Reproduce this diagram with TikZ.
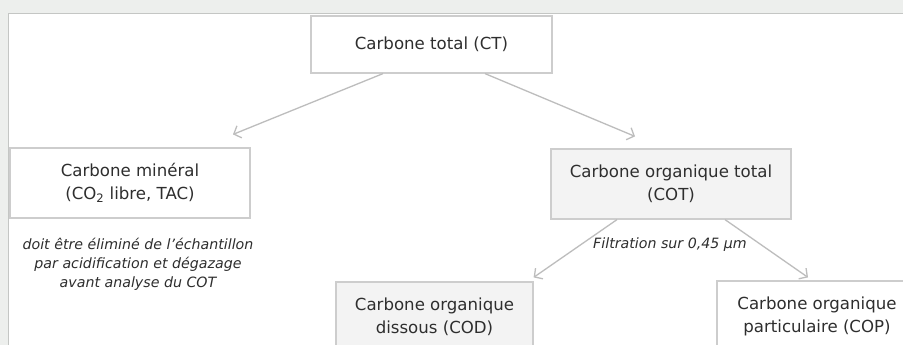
\documentclass[tikz,border=0pt]{standalone}
\usepackage{fontspec}
\setmainfont{DejaVu Sans}
\usetikzlibrary{arrows.meta,calc}
\definecolor{bgout}{HTML}{EDEFED}
\definecolor{panelline}{HTML}{C4C6C4}
\definecolor{boxline}{HTML}{CDCDCD}
\definecolor{boxfill}{HTML}{F3F3F3}
\definecolor{txt}{HTML}{2E2E2E}
\definecolor{arrcol}{HTML}{BDBDBD}
\tikzset{
  box/.style={draw=boxline, line width=1.2pt, fill=white, rectangle, align=center,
    inner sep=0pt, text=txt, font=\fontsize{16.6}{23}\selectfont},
  grey/.style={fill=boxfill},
  note/.style={align=center, text=txt, inner sep=0pt, font=\fontsize{14.2}{19}\selectfont\itshape},
  arr/.style={draw=arrcol, line width=1.3pt, -{Straight Barb[length=6pt,width=13pt,line width=1.3pt]}}
}
\begin{document}
\begin{tikzpicture}[x=1pt,y=-1pt]
\useasboundingbox (0,0) rectangle (903,345);
\clip (0,0) rectangle (903,345);
\fill[bgout] (0,0) rectangle (903,345);
\draw[panelline, line width=1.2pt, fill=white] (8.5,13.5) rectangle (960,400);
\node[box, minimum width=241pt, minimum height=57pt] (ct) at (431.5,44.5) {Carbone total (CT)};
\node[box, minimum width=240pt, minimum height=70pt] (cm) at (130,183) {Carbone minéral\\(CO\textsubscript{2} libre, TAC)};
\node[box, grey, minimum width=240pt, minimum height=70pt] (cot) at (671,184) {Carbone organique total\\(COT)};
\node[box, grey, minimum width=197pt, minimum height=70pt] (cod) at (434.5,317) {Carbone organique\\dissous (COD)};
\node[box, minimum width=200pt, minimum height=70pt] (cop) at (817,316) {Carbone organique\\particulaire (COP)};
\node[note] (elim) at (138,264) {doit être éliminé de l’échantillon\\par acidification et dégazage\\avant analyse du COT};
\node[note] (filt) at (670,245) {Filtration sur 0,45 µm};
\draw[arr] ([xshift=-48.5pt]ct.south) -- ([xshift=103pt,yshift=13pt]cm.north);
\draw[arr] ([xshift=53.5pt]ct.south) -- ([xshift=-36pt,yshift=12pt]cot.north);
\draw[arr] ([xshift=-54pt]cot.south) -- ([yshift=4pt]cod.north east);
\draw[arr] ([xshift=54pt]cot.south) -- ([xshift=-9pt,yshift=3pt]cop.north);
\end{tikzpicture}
\end{document}
